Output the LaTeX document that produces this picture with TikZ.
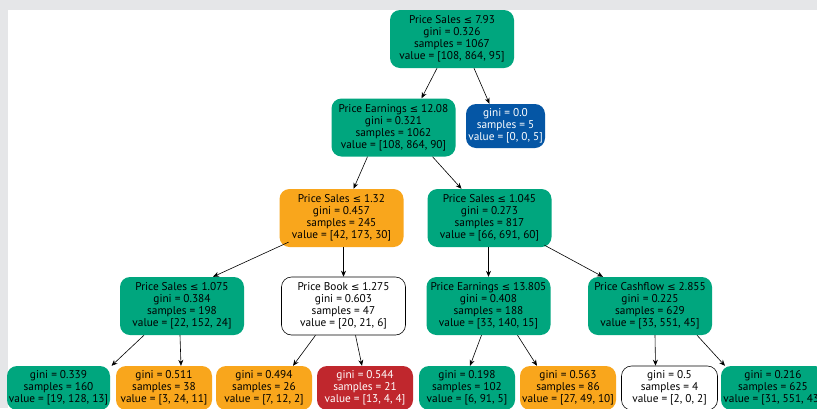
\documentclass[tikz,border=0pt]{standalone}
\usepackage{fontspec}
\setmainfont{PT Sans}
\newfontfamily\symfont{DejaVu Sans}
\newcommand{\leqsym}{{\symfont\fontsize{10}{12}\selectfont ≤}}
\usetikzlibrary{positioning,arrows.meta,calc}

\definecolor{pagegrey}{HTML}{E5E6E8}
\definecolor{tgreen}{HTML}{00A67E}
\definecolor{torange}{HTML}{F9A61C}
\definecolor{tblue}{HTML}{0556A5}
\definecolor{tred}{HTML}{C0272D}

\begin{document}
\begin{tikzpicture}[x=1pt,y=-1pt,
  box/.style={rounded corners=10pt,align=center,inner sep=1pt,font=\fontsize{11.3}{12}\selectfont},
  split/.style={box,minimum width=124pt,minimum height=58pt},
  leaf/.style={box,minimum width=96pt,minimum height=44pt},
  edge/.style={-{Stealth[length=6pt,width=5pt]},line width=0.6pt}]
  \clip (0,0) rectangle (817,408);
  \fill[pagegrey] (0,0) rectangle (817,408);
  \fill[white] (8,10) rectangle (817,408);

  % splits
  \node[split,fill=tgreen] (root) at (452,39) {Price Sales \leqsym{} 7.93\\gini = 0.326\\samples = 1067\\value = [108, 864, 95]};
  \node[split,fill=tgreen] (pe) at (393.5,127.5) {Price Earnings \leqsym{} 12.08\\gini = 0.321\\samples = 1062\\value = [108, 864, 90]};
  \node[box,fill=tblue,text=white,minimum width=79pt,minimum height=44pt] (lfa) at (505.5,126) {gini = 0.0\\samples = 5\\value = [0, 0, 5]};
  \node[split,fill=torange] (psa) at (341.5,218) {Price Sales \leqsym{} 1.32\\gini = 0.457\\samples = 245\\value = [42, 173, 30]};
  \node[split,fill=tgreen] (psb) at (489.5,218) {Price Sales \leqsym{} 1.045\\gini = 0.273\\samples = 817\\value = [66, 691, 60]};
  \node[split,fill=tgreen] (psc) at (182,306) {Price Sales \leqsym{} 1.075\\gini = 0.384\\samples = 198\\value = [22, 152, 24]};
  \node[split,draw=black,fill=white,line width=0.6pt] (pb) at (343.5,306) {Price Book \leqsym{} 1.275\\gini = 0.603\\samples = 47\\value = [20, 21, 6]};
  \node[split,fill=tgreen] (peb) at (488.5,306) {Price Earnings \leqsym{} 13.805\\gini = 0.408\\samples = 188\\value = [33, 140, 15]};
  \node[split,fill=tgreen] (pcf) at (650,306) {Price Cashflow \leqsym{} 2.855\\gini = 0.225\\samples = 629\\value = [33, 551, 45]};

  % leaves
  \node[leaf,fill=tgreen,minimum width=103pt] (lfb) at (58.5,388) {gini = 0.339\\samples = 160\\value = [19, 128, 13]};
  \node[leaf,fill=torange] (lfc) at (164,388) {gini = 0.511\\samples = 38\\value = [3, 24, 11]};
  \node[leaf,fill=torange] (lfd) at (264,388) {gini = 0.494\\samples = 26\\value = [7, 12, 2]};
  \node[leaf,fill=tred,text=white] (lfe) at (365,388) {gini = 0.544\\samples = 21\\value = [13, 4, 4]};
  \node[leaf,fill=tgreen] (lff) at (467,388) {gini = 0.198\\samples = 102\\value = [6, 91, 5]};
  \node[leaf,fill=torange] (lfg) at (568,388) {gini = 0.563\\samples = 86\\value = [27, 49, 10]};
  \node[leaf,draw=black,fill=white,line width=0.6pt] (lfh) at (669.5,388) {gini = 0.5\\samples = 4\\value = [2, 0, 2]};
  \node[leaf,fill=tgreen,minimum width=104pt] (lfi) at (773,388) {gini = 0.216\\samples = 625\\value = [31, 551, 43]};

  % edges
  \draw[edge] ([xshift=-15pt]root.south) -- ([xshift=28pt]pe.north);
  \draw[edge] ([xshift=22pt]root.south) -- ([xshift=-16pt]lfa.north);
  \draw[edge] ([xshift=-26pt]pe.south) -- ([xshift=12pt]psa.north);
  \draw[edge] ([xshift=39pt]pe.south) -- ([xshift=-28pt]psb.north);
  \draw[edge] ([shift={(-53,-5)}]psa.south) -- ([xshift=31pt]psc.north);
  \draw[edge] ([xshift=2pt]psa.south) -- (pb.north);
  \draw[edge] ([xshift=-1pt]psb.south) -- (peb.north);
  \draw[edge] ([shift={(55,-2)}]psb.south) -- ([xshift=-47pt]pcf.north);
  \draw[edge] ([xshift=-38pt]psc.south) -- ([xshift=53pt]lfb.north);
  \draw[edge] ([xshift=-2pt]psc.south) -- ([xshift=17pt]lfc.north);
  \draw[edge] ([xshift=-28pt]pb.south) -- ([xshift=29pt]lfd.north);
  \draw[edge] ([xshift=12pt]pb.south) -- ([xshift=-3pt]lfe.north);
  \draw[edge] ([xshift=-7pt]peb.south) -- ([xshift=3pt]lff.north);
  \draw[edge] ([xshift=29pt]peb.south) -- ([xshift=-31pt]lfg.north);
  \draw[edge] ([xshift=5pt]pcf.south) -- ([xshift=-14pt]lfh.north);
  \draw[edge] ([xshift=47pt]pcf.south) -- ([xshift=-48pt]lfi.north);
\end{tikzpicture}
\end{document}
